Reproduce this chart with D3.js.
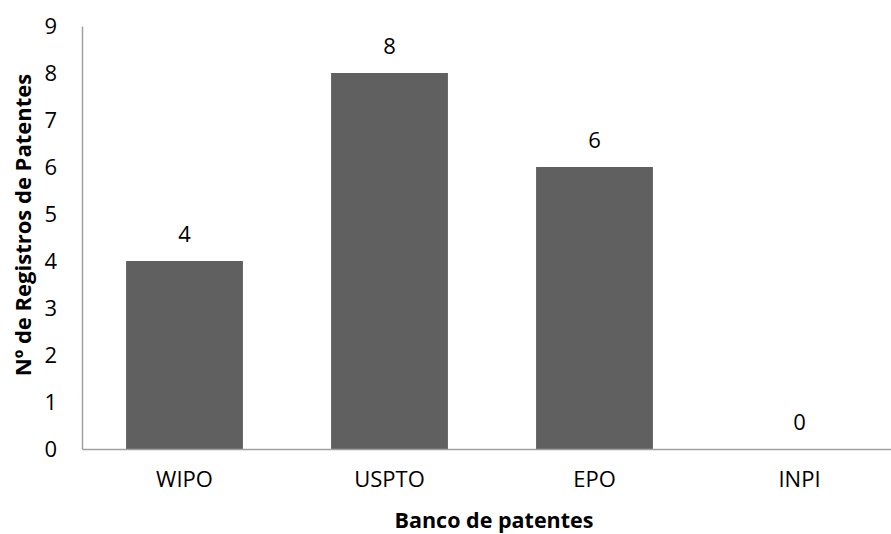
<!DOCTYPE html>
<html>
<head>
<meta charset="utf-8">
<script src="https://cdn.jsdelivr.net/npm/d3@7"></script>
<style>
  html, body { margin: 0; padding: 0; background: #fff; }
  svg { display: block; }
  text { font-family: "Open Sans", sans-serif; fill: #000; }
</style>
</head>
<body>
<svg id="chart" width="891" height="534"></svg>
<script>
// Patent registrations per database
const categories = ["WIPO", "USPTO", "EPO", "INPI"];
const values = [4, 8, 6, 0];
const yTicks = [0, 1, 2, 3, 4, 5, 6, 7, 8, 9];
const xTitle = "Banco de patentes";
const yTitle = "Nº de Registros de Patentes";

const svg = d3.select("#chart");
const margin = { left: 82, top: 26, bottom: 85 };
const plotW = 820;
const plotH = 534 - margin.top - margin.bottom;

const x = d3.scaleBand().domain(categories).range([margin.left, margin.left + plotW])
  .paddingInner(0.43).paddingOuter(0.215);
const y = d3.scaleLinear().domain([0, 9]).range([margin.top + plotH, margin.top]);

// bars
svg.append("g").selectAll("rect").data(values).join("rect")
  .attr("x", (d, i) => x(categories[i]))
  .attr("y", d => y(d))
  .attr("width", x.bandwidth())
  .attr("height", d => y(0) - y(d))
  .attr("fill", "#606060");

// value labels
svg.append("g").selectAll("text").data(values).join("text")
  .attr("x", (d, i) => x(categories[i]) + x.bandwidth() / 2)
  .attr("y", d => y(d) - 19)
  .attr("text-anchor", "middle")
  .style("font-size", "22px")
  .text(d => d);

// y axis
const yAxis = svg.append("g").attr("transform", `translate(${margin.left},0)`)
  .call(d3.axisLeft(y).tickValues(yTicks).tickSize(0).tickPadding(25));
yAxis.select(".domain").attr("stroke", "#a0a0a0").attr("stroke-width", 1.5);
yAxis.selectAll("text").style("font-size", "22px").style("font-family", "'Open Sans', sans-serif");

// x axis
const xAxis = svg.append("g").attr("transform", `translate(0,${y(0)})`)
  .call(d3.axisBottom(x).tickSize(0).tickPadding(22));
xAxis.select(".domain").attr("stroke", "#a0a0a0").attr("stroke-width", 1.5);
xAxis.selectAll("text").style("font-size", "22px").style("font-family", "'Open Sans', sans-serif");

// axis titles
svg.append("text")
  .attr("x", 494).attr("y", 528)
  .attr("text-anchor", "middle")
  .style("font-size", "21.5px").style("font-weight", "bold")
  .text(xTitle);

svg.append("text")
  .attr("transform", "translate(31,225) rotate(-90)")
  .attr("text-anchor", "middle")
  .style("font-size", "22px").style("font-weight", "bold")
  .text(yTitle);
</script>
</body>
</html>
